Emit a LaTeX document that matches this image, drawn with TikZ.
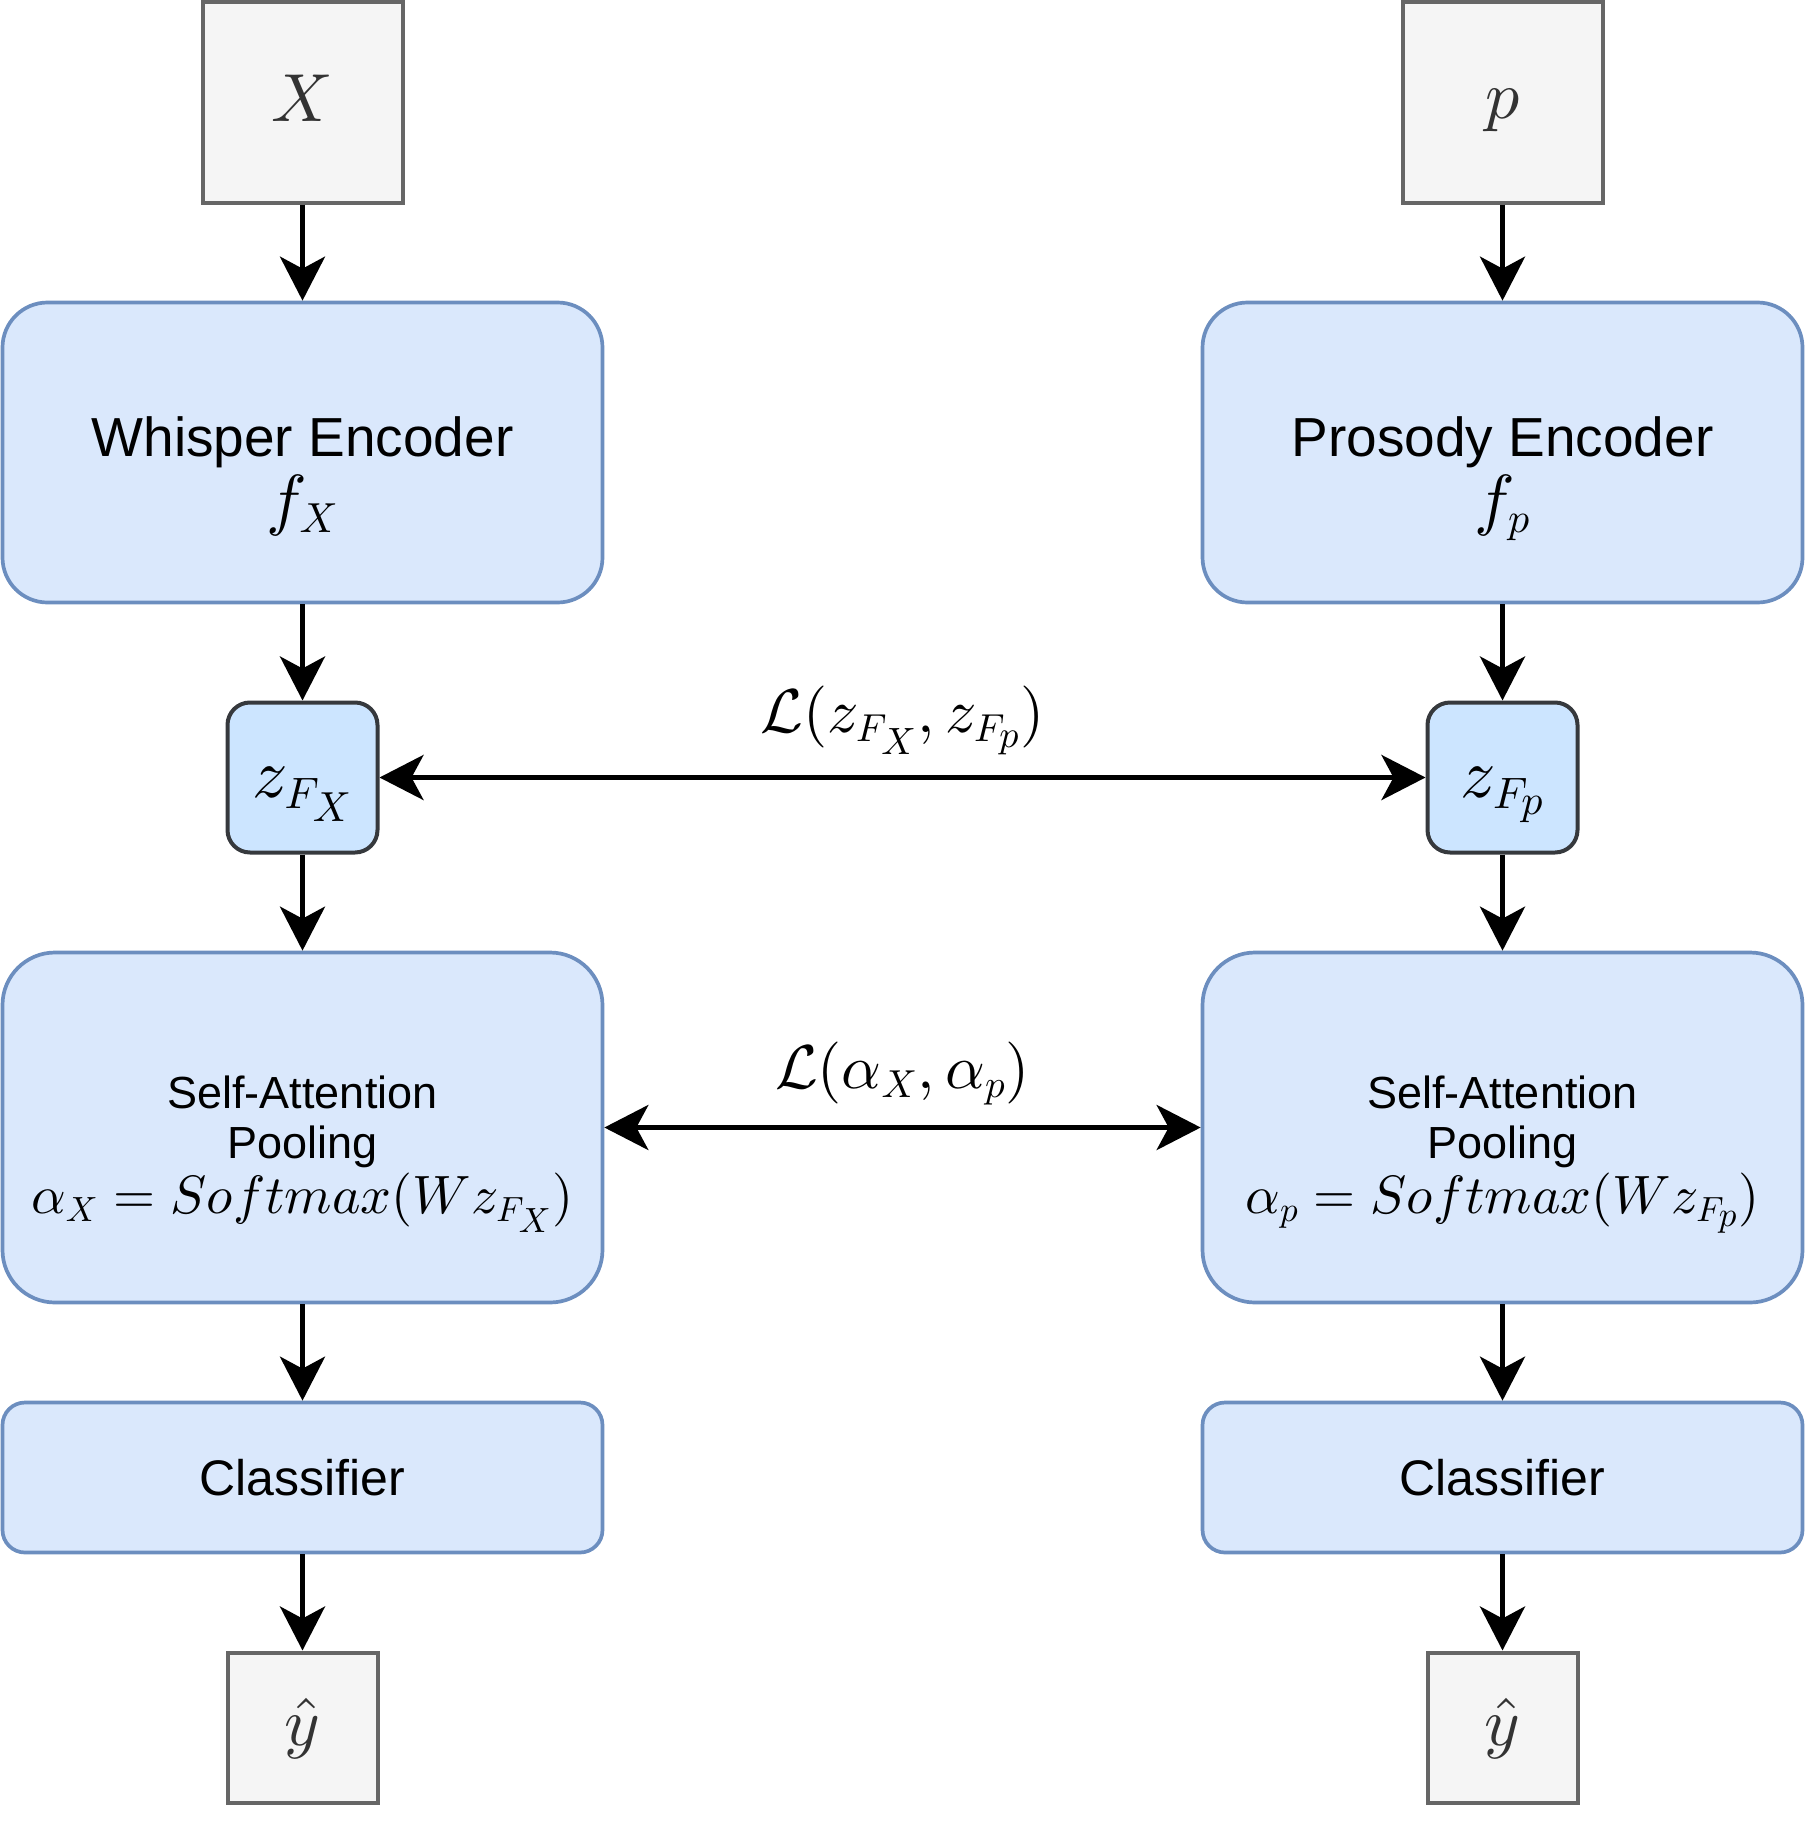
\documentclass[tikz,border=0pt]{standalone}
\usepackage{amsmath}
\usepackage[no-math]{fontspec}
\setmainfont{Liberation Sans}
\DeclareFontShape{OML}{cmm}{m}{it}{<->cmmi10}{}
\DeclareFontShape{OT1}{cmr}{m}{n}{<->cmr10}{}
\DeclareFontShape{OMS}{cmsy}{m}{n}{<->cmsy10}{}
\DeclareFontShape{OMX}{cmex}{m}{n}{<->cmex10}{}
\DeclareMathSizes{35}{35}{22}{21}
\DeclareMathSizes{34}{34}{21}{20}
\DeclareMathSizes{31}{31}{19.5}{19}
\DeclareMathSizes{27}{27}{17.5}{17.5}
\usetikzlibrary{arrows.meta}
\definecolor{inFill}{HTML}{F5F5F5}
\definecolor{inLine}{HTML}{666666}
\definecolor{inText}{HTML}{333333}
\definecolor{encFill}{HTML}{DAE8FC}
\definecolor{encLine}{HTML}{6C8EBF}
\definecolor{zFill}{HTML}{CCE5FF}
\definecolor{zLine}{HTML}{36393D}
\tikzstyle{ivertex}=[rectangle,draw=inLine,fill=inFill,text=inText,line width=2pt,minimum size=100pt,inner sep=0pt,font=\fontsize{34}{34}\selectfont,text depth=0pt]
\tikzstyle{enc}=[rectangle,rounded corners=22.5pt,draw=encLine,fill=encFill,line width=1.85pt,minimum width=300pt,minimum height=150pt,inner sep=0pt]
\tikzstyle{att}=[enc,rounded corners=26.25pt,minimum height=175pt]
\tikzstyle{cls}=[enc,rounded corners=11.25pt,minimum height=75pt,font=\fontsize{25}{30}\selectfont]
\tikzstyle{zvertex}=[rectangle,rounded corners=11.25pt,draw=zLine,fill=zFill,line width=2pt,minimum size=75pt,inner sep=0pt,font=\fontsize{35}{35}\selectfont,text height=20pt,text depth=0pt]
\tikzstyle{etext}=[align=center,inner sep=0pt,anchor=north,font=\fontsize{27.5}{33}\selectfont]
\tikzstyle{atext}=[align=center,inner sep=0pt,anchor=north,font=\fontsize{22.5}{25}\selectfont]
\tikzstyle{lbl}=[inner sep=0pt,font=\fontsize{31}{31}\selectfont]
\tikzstyle{flow}=[line width=2.5pt,->]
\tikzstyle{loss}=[line width=2.5pt,<->]
\newcommand{\pxsize}{0.5pt}
\newcommand{\encmath}[1]{{\fontsize{34}{33}\selectfont$#1$}}
\newcommand{\attmath}[1]{{\fontsize{27}{25}\selectfont$#1$}}

\begin{document}
\begin{tikzpicture}[x=\pxsize,y=-\pxsize,>={Stealth[length=22pt,width=22.5pt,inset=6pt]}]
    \useasboundingbox (0,0) rectangle (1805,1825);
    \node[ivertex,text height=18.5pt] (X) at (302.5,102.5) {$X$};
    \node[enc] (FX) at (302.5,452.5) {};
    \node[etext] (FXt) at (302.5,416) {Whisper Encoder\\\encmath{f_X}};
    \node[zvertex] (ZX) at (302.5,777.5) {$z_{F_X}$};
    \node[att] (AX) at (302.5,1127.5) {};
    \node[atext] (AXt) at (302.5,1075) {Self-Attention\\Pooling\\[2.5pt]\attmath{\alpha_X = Softmax(Wz_{F_X})}};
    \node[cls] (CX) at (302.5,1477.5) {Classifier};
    \node[ivertex,minimum size=75pt,text height=17.5pt] (YX) at (302.5,1727.5) {$\hat{y}$};
    \node[ivertex,text height=16pt] (P) at (1502.5,102.5) {$p$};
    \node[enc] (FP) at (1502.5,452.5) {};
    \node[etext] (FPt) at (1502.5,416) {Prosody Encoder\\\encmath{f_p}};
    \node[zvertex] (ZP) at (1502.5,777.5) {$z_{F_p}$};
    \node[att] (AP) at (1502.5,1127.5) {};
    \node[atext] (APt) at (1502.5,1075) {Self-Attention\\Pooling\\[2.5pt]\attmath{\alpha_p = Softmax(Wz_{F_p})}};
    \node[cls] (CP) at (1502.5,1477.5) {Classifier};
    \node[ivertex,minimum size=75pt,text height=17.5pt] (YP) at (1502.5,1727.5) {$\hat{y}$};
	 \draw[flow] (X) -- (FX);
	 \draw[flow] (FX) -- (ZX);
	 \draw[flow] (ZX) -- (AX);
	 \draw[flow] (AX) -- (CX);
	 \draw[flow] (CX) -- (YX);
	 \draw[flow] (P) -- (FP);
	 \draw[flow] (FP) -- (ZP);
	 \draw[flow] (ZP) -- (AP);
	 \draw[flow] (AP) -- (CP);
	 \draw[flow] (CP) -- (YP);
	 \draw[loss] (ZX) -- node[lbl,above=10pt] (LZ) {$\mathcal{L}(z_{F_X}, z_{F_p})$} (ZP);
	 \draw[loss] (AX) -- node[lbl,above=10pt] (LA) {$\mathcal{L}(\alpha_X, \alpha_p)$} (AP);
\end{tikzpicture}
\end{document}
